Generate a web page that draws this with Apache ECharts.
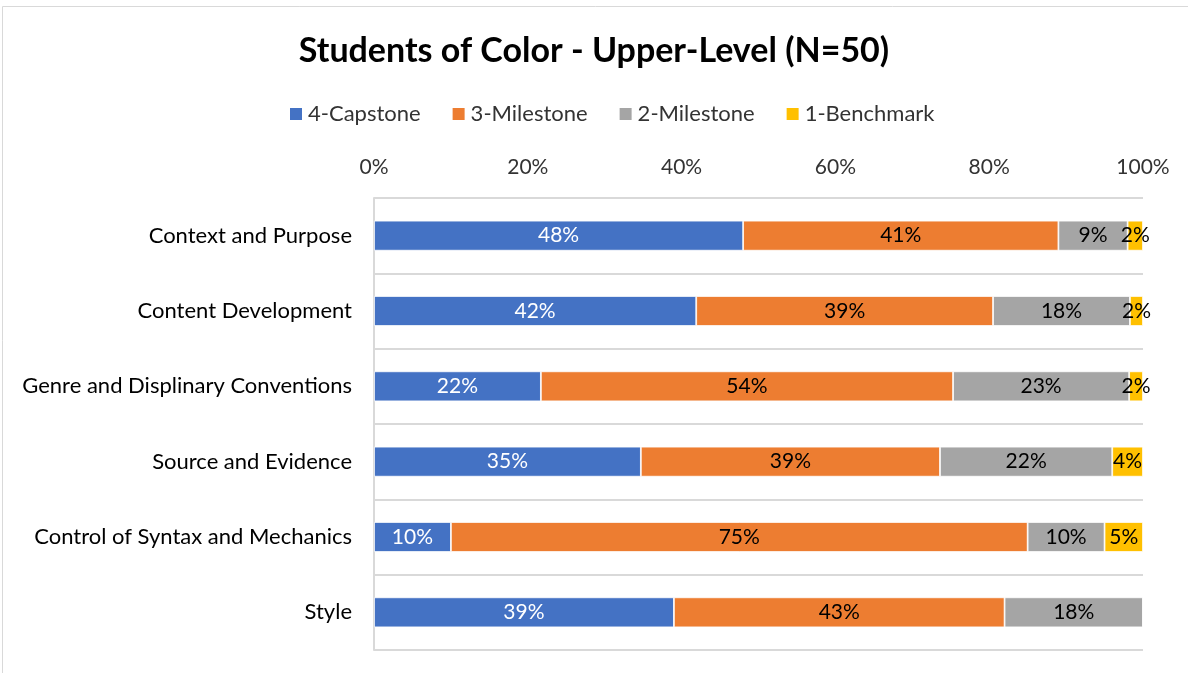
<!DOCTYPE html>
<html><head><meta charset="utf-8">
<script src="https://cdn.jsdelivr.net/npm/echarts@6/dist/echarts.min.js"></script>
<style>html,body{margin:0;padding:0;background:#fff}#c{width:1188px;height:673px}</style>
</head><body><div id="c"></div>
<script>
const categories = ["Context and Purpose","Content Development","Genre and Displinary Conventions","Source and Evidence","Control of Syntax and Mechanics","Style"];
const capstone4 = [48, 41.9, 21.7, 34.7, 10, 39];
const milestone3 = [41, 38.6, 53.6, 38.9, 75, 43];
const milestone2 = [9, 17.8, 22.9, 22.4, 10, 18];
const benchmark1 = [2, 1.7, 1.8, 4.0, 5, 0];
const seriesNames = ["4-Capstone","3-Milestone","2-Milestone","1-Benchmark"];
const colors = ["#4472C4","#ED7D31","#A5A5A5","#FFC000"];
const labelColors = ["#ffffff","#000000","#000000","#000000"];
const xTicks = [0,20,40,60,80,100];
const FONT = "Lato";
const chart = echarts.init(document.getElementById('c'));
const dataSets = [capstone4, milestone3, milestone2, benchmark1];
chart.setOption({
  animation:false,
  textStyle:{fontFamily:FONT},
  graphic:[{type:'rect',shape:{x:2.5,y:6.5,width:1200,height:700},style:{fill:'none',stroke:'#d9d9d9',lineWidth:1},silent:true}],
  title:{text:"Students of Color - Upper-Level (N=50)",left:'center',top:29,textStyle:{fontFamily:FONT,fontSize:34,fontWeight:'bold',color:'#000'}},
  legend:{top:98,left:283,itemWidth:14,itemHeight:14,itemGap:30,icon:'rect',textStyle:{fontFamily:FONT,fontSize:22,color:'#333'}},
  grid:{left:374,right:45,top:198,bottom:23},
  xAxis:{type:'value',position:'top',min:xTicks[0],max:xTicks[xTicks.length-1],interval:20,
    axisLabel:{formatter:'{value}%',fontFamily:FONT,fontSize:21,color:'#333',margin:20},
    axisLine:{show:false},axisTick:{show:false},splitLine:{show:false}},
  yAxis:{type:'category',data:categories,inverse:true,
    axisLabel:{fontFamily:FONT,fontSize:22,color:'#000',margin:22},
    axisLine:{show:true,lineStyle:{color:'#d9d9d9',width:2}},axisTick:{show:false},
    splitLine:{show:true,lineStyle:{color:'#d9d9d9',width:2}}},
  series:dataSets.map((d,i)=>({
    name:seriesNames[i],type:'bar',stack:'total',data:d,barWidth:30,
    itemStyle:{color:colors[i],borderColor:'#fff',borderWidth:0.8},
    label:{show:true,position:'inside',color:labelColors[i],fontFamily:FONT,fontSize:21,
      formatter:p=>p.value>0?Math.round(p.value)+'%':''}
  }))
});
</script></body></html>
